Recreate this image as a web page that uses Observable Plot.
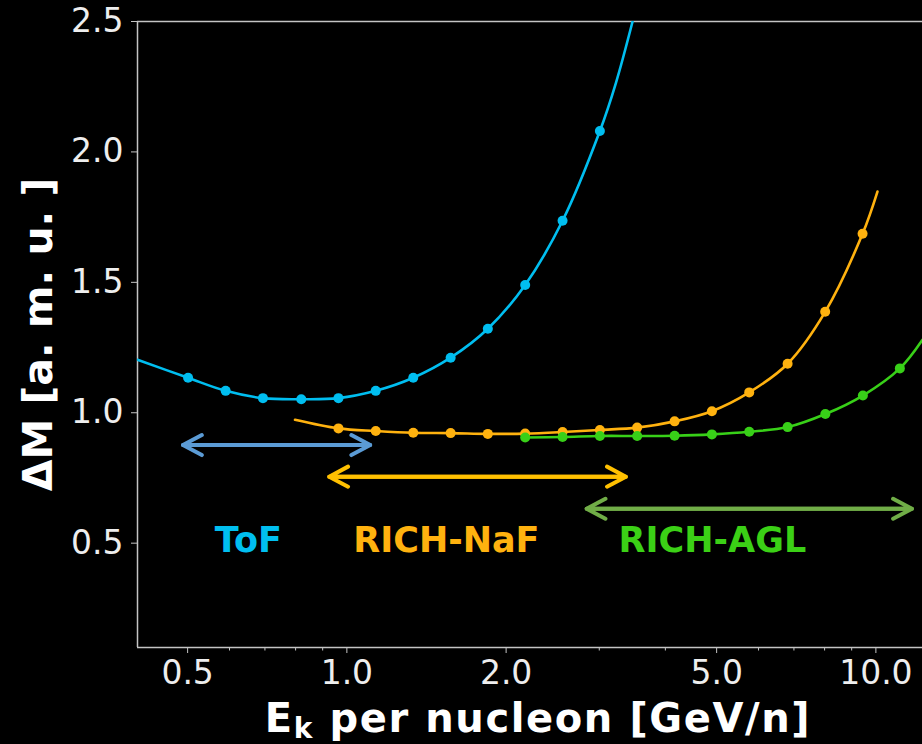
<!DOCTYPE html>
<html><head><meta charset="utf-8">
<script src="https://cdn.jsdelivr.net/npm/d3@7"></script>
<script src="https://cdn.jsdelivr.net/npm/@observablehq/plot@0.6"></script>
<style>
html,body{margin:0;padding:0;background:#000;}
#chart svg{display:block;}
</style>
</head><body><div id="chart"></div>
<script>
// ToF resolution points
const tofE = [0.501, 0.590, 0.694, 0.820, 0.964, 1.134, 1.335, 1.571, 1.847, 2.173, 2.557, 3.008];
const tofM = [1.134, 1.084, 1.056, 1.052, 1.056, 1.084, 1.134, 1.211, 1.322, 1.490, 1.736, 2.080];
// ToF fitted curve
const tofLineE = [0.402, 0.501, 0.590, 0.694, 0.820, 0.964, 1.134, 1.335, 1.571, 1.847, 2.173, 2.557, 3.008, 3.225, 3.468];
const tofLineM = [1.203, 1.134, 1.084, 1.056, 1.052, 1.056, 1.084, 1.134, 1.211, 1.322, 1.490, 1.736, 2.080, 2.264, 2.500];

// RICH-NaF points
const nafE = [0.964, 1.134, 1.335, 1.571, 1.847, 2.173, 2.557, 3.008, 3.538, 4.164, 4.898, 5.762, 6.810, 8.020, 9.437];
const nafM = [0.940, 0.930, 0.923, 0.922, 0.919, 0.920, 0.926, 0.934, 0.943, 0.967, 1.006, 1.078, 1.188, 1.387, 1.686];
const nafLineE = [0.798, 0.964, 1.134, 1.335, 1.571, 1.847, 2.173, 2.557, 3.008, 3.538, 4.164, 4.898, 5.762, 6.810, 8.020, 9.437, 10.07];
const nafLineM = [0.973, 0.940, 0.930, 0.923, 0.922, 0.919, 0.920, 0.926, 0.934, 0.943, 0.967, 1.006, 1.078, 1.188, 1.387, 1.686, 1.848];

// RICH-AGL points
const aglE = [2.173, 2.557, 3.008, 3.538, 4.164, 4.898, 5.762, 6.810, 8.026, 9.450, 11.10];
const aglM = [0.905, 0.907, 0.911, 0.911, 0.912, 0.917, 0.927, 0.945, 0.995, 1.066, 1.170];
const aglLineE = [2.173, 2.557, 3.008, 3.538, 4.164, 4.898, 5.762, 6.810, 8.026, 9.450, 11.10, 12.25];
const aglLineM = [0.905, 0.907, 0.911, 0.911, 0.912, 0.917, 0.927, 0.945, 0.995, 1.066, 1.170, 1.280];

// detector ranges (double arrows)
const rangeNames = ["ToF", "RICH-NaF", "RICH-AGL"];
const rangeFrom = [0.490, 0.926, 2.839];
const rangeTo = [1.107, 3.368, 11.70];
const rangeLevel = [0.876, 0.755, 0.632];
const arrowColors = ["#5B9BD5", "#FFC000", "#70AD47"];

// range labels
const labelE = [0.651, 1.542, 4.909];
const labelM = [0.511, 0.511, 0.511];
const labelColors = ["#00BFF0", "#FFB20F", "#3BD016"];

// ticks
const xMajor = [0.5, 1, 2, 5, 10];
const xMinor = [0.6, 0.7, 0.8, 0.9, 3, 4, 6, 7, 8, 9];
const yTicks = [0.5, 1.0, 1.5, 2.0, 2.5];

const xLabel = "Ek per nucleon [GeV/n]";
const yLabel = "ΔM [a. m. u. ]";

const seriesColors = {tof: "#00BEF0", naf: "#FFB20F", agl: "#38D018"};

const pts = (E, M) => E.map((e, i) => ({e, m: M[i]}));
const arrows = rangeNames.map((n, i) => ({n, a: rangeFrom[i], b: rangeTo[i], y: rangeLevel[i], c: arrowColors[i]}));
const labels = rangeNames.map((n, i) => ({n, e: labelE[i], m: labelM[i], c: labelColors[i]}));

const spine = "#c4c4c4";
const chart = Plot.plot({
  width: 922, height: 744,
  marginLeft: 137, marginRight: 0, marginTop: 21, marginBottom: 97,
  style: {background: "#000", color: "#eee", fontFamily: "'DejaVu Sans', sans-serif", fontSize: "33px", overflow: "visible"},
  x: {type: "log", domain: [0.402, 12.25]},
  y: {domain: [0.1, 2.5]},
  color: {type: "identity"},
  marks: [
    Plot.axisX(xMajor, {tickSize: 6, tickPadding: 7, tickFormat: d3.format(".1f"), stroke: spine, fill: "#eee", fontSize: 33, label: null}),
    Plot.axisX(xMinor, {tickSize: 3.5, tickFormat: () => "", stroke: spine, label: null}),
    Plot.axisY(yTicks, {tickSize: 6, tickPadding: 8, tickFormat: d3.format(".1f"), stroke: spine, fill: "#eee", fontSize: 33, label: null}),
    Plot.ruleY([2.5], {stroke: spine, strokeWidth: 1.5}),
    Plot.ruleY([0.1], {stroke: spine, strokeWidth: 1.5}),
    Plot.ruleX([0.402], {stroke: spine, strokeWidth: 1.5}),

    Plot.line(pts(tofLineE, tofLineM), {x: "e", y: "m", stroke: seriesColors.tof, strokeWidth: 2.6, curve: "catmull-rom", clip: true}),
    Plot.dot(pts(tofE, tofM), {x: "e", y: "m", r: 5, fill: seriesColors.tof, stroke: "none"}),
    Plot.line(pts(nafLineE, nafLineM), {x: "e", y: "m", stroke: seriesColors.naf, strokeWidth: 2.6, curve: "catmull-rom", clip: true}),
    Plot.dot(pts(nafE, nafM), {x: "e", y: "m", r: 5, fill: seriesColors.naf, stroke: "none"}),
    Plot.line(pts(aglLineE, aglLineM), {x: "e", y: "m", stroke: seriesColors.agl, strokeWidth: 2.6, curve: "catmull-rom", clip: true}),
    Plot.dot(pts(aglE, aglM), {x: "e", y: "m", r: 5, fill: seriesColors.agl, stroke: "none"}),

    Plot.arrow(arrows, {x1: "a", x2: "b", y1: "y", y2: "y", stroke: "c", strokeWidth: 4, headLength: 8, headAngle: 56}),
    Plot.arrow(arrows, {x1: "b", x2: "a", y1: "y", y2: "y", stroke: "c", strokeWidth: 4, headLength: 8, headAngle: 56}),

    Plot.text(labels, {x: "e", y: "m", text: "n", fill: "c", fontSize: 35, fontWeight: "bold", lineAnchor: "middle"}),

    Plot.text([yLabel], {frameAnchor: "left", dx: -99, rotate: -90, fontSize: 41, fontWeight: "bold", fill: "#fff", textAnchor: "middle", lineAnchor: "middle"}),
    Plot.text([xLabel], {frameAnchor: "bottom", dx: 8, dy: 72, fontSize: 40, fontWeight: "bold", fill: "#fff", textAnchor: "middle", lineAnchor: "middle"})
  ]
});

// subscript k in the x label
for (const t of chart.querySelectorAll("text")) {
  if (t.textContent === xLabel) {
    t.textContent = "";
    t.setAttribute("letter-spacing", "1.6");
    const ns = "http://www.w3.org/2000/svg";
    const a = document.createElementNS(ns, "tspan"); a.textContent = "E";
    const b = document.createElementNS(ns, "tspan"); b.textContent = "k"; b.setAttribute("font-size", "28"); b.setAttribute("dy", "6");
    const c = document.createElementNS(ns, "tspan"); c.textContent = " per nucleon [GeV/n]"; c.setAttribute("dy", "-6");
    t.append(a, b, c);
  }
}
document.getElementById("chart").append(chart);
</script>
</body></html>
